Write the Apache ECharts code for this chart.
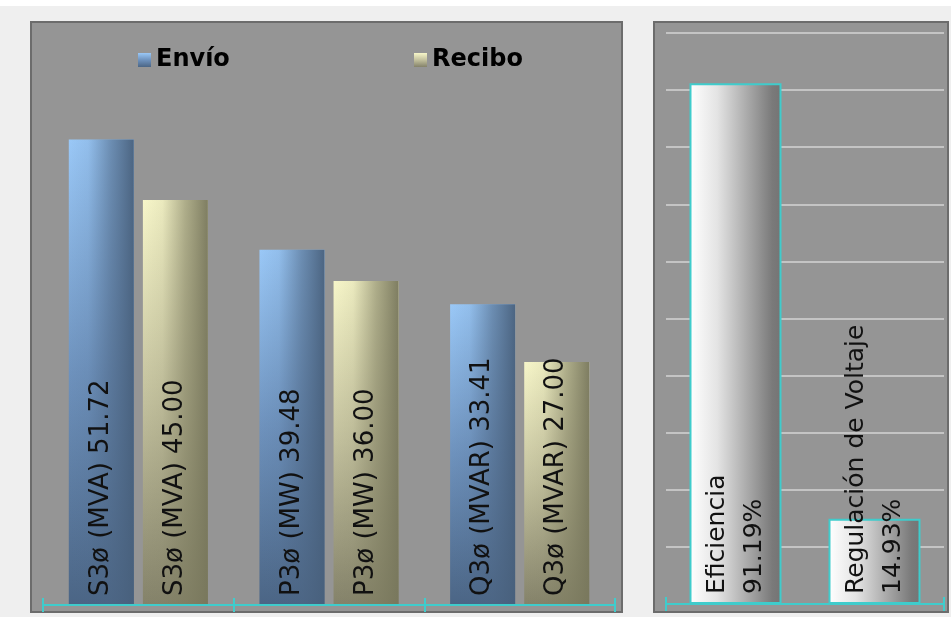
<!DOCTYPE html>
<html><head><meta charset="utf-8">
<script src="https://cdn.jsdelivr.net/npm/echarts@6/dist/echarts.min.js"></script>
<style>html,body{margin:0;padding:0;background:#efefef}#c{width:951px;height:617px}</style>
</head><body><div id="c"></div><script>
const categories = ['S3ø (MVA)', 'P3ø (MW)', 'Q3ø (MVAR)'];
const envio = [51.72, 39.48, 33.41];
const recibo = [45.00, 36.00, 27.00];
const indicadores = ['Eficiencia', 'Regulación de Voltaje'];
const indicadorValores = [91.19, 14.93];

const chart = echarts.init(document.getElementById('c'));
const G = echarts.graphic.LinearGradient;
const envioFill = new G(0,0,0,1,[{offset:0,color:'#9ac8f7'},{offset:0.5,color:'#6e92bd'},{offset:1,color:'#4b6585'}]);
const reciboFill = new G(0,0,0,1,[{offset:0,color:'#f7f6c9'},{offset:0.5,color:'#c2c09d'},{offset:1,color:'#84826a'}]);
const envioShade = new G(0,0,1,0,[{offset:0,color:'rgba(77,102,132,0)'},{offset:0.3,color:'rgba(77,102,132,0.1)'},{offset:0.65,color:'rgba(77,102,132,0.6)'},{offset:1,color:'rgba(72,96,124,0.95)'}]);
const reciboShade = new G(0,0,1,0,[{offset:0,color:'rgba(126,125,96,0)'},{offset:0.3,color:'rgba(126,125,96,0.1)'},{offset:0.65,color:'rgba(126,125,96,0.6)'},{offset:1,color:'rgba(120,119,92,0.95)'}]);
const greyFill = new G(0,0,1,0,[{offset:0,color:'#ffffff'},{offset:0.3,color:'#e4e4e4'},{offset:0.65,color:'#a6a6a6'},{offset:0.9,color:'#7a7a7a'},{offset:1,color:'#747474'}]);
const cyan = '#3fcccc';
const FONT = 'DejaVu Sans';

const leftLabel = {
  show: true, rotate: 90, position: 'insideBottom', align: 'left', verticalAlign: 'middle',
  distance: 9, color: '#111', fontFamily: FONT, fontSize: 26,
  formatter: p => categories[p.dataIndex] + ' ' + p.value.toFixed(2)
};

const option = {
  animation: false,
  backgroundColor: '#efefef',
  graphic: [
    {type:'rect', z:-10, shape:{x:0,y:0,width:951,height:6}, style:{fill:'#ffffff'}},
    {type:'rect', z:-10, shape:{x:31,y:22,width:591,height:590}, style:{fill:'#959595', stroke:'#6c6c6c', lineWidth:2}},
    {type:'rect', z:-10, shape:{x:654,y:22,width:294,height:590}, style:{fill:'#959595', stroke:'#6c6c6c', lineWidth:2}}
  ],
  legend: [
    {data:['Envío'], left:133, top:43, icon:'rect', itemWidth:13, itemHeight:14, itemGap:6,
     textStyle:{fontFamily:FONT, fontWeight:'bold', fontSize:24, color:'#000'}},
    {data:['Recibo'], left:409, top:43, icon:'rect', itemWidth:13, itemHeight:14, itemGap:6,
     textStyle:{fontFamily:FONT, fontWeight:'bold', fontSize:24, color:'#000'}}
  ],
  grid: [
    {left:43, top:65, width:572, height:540},
    {left:666, top:33, width:278, height:571}
  ],
  xAxis: [
    {gridIndex:0, type:'category', data:categories, z:10, axisLine:{lineStyle:{color:cyan,width:2}},
     axisTick:{show:true,length:7,lineStyle:{color:cyan,width:2}}, axisLabel:{show:false}},
    {gridIndex:0, type:'category', data:categories, position:'bottom', z:10, axisLine:{show:false},
     axisTick:{show:true,inside:true,length:7,lineStyle:{color:cyan,width:2}}, axisLabel:{show:false}},
    {gridIndex:1, type:'category', data:indicadores, z:10, axisLine:{lineStyle:{color:cyan,width:2}},
     axisTick:{show:true,length:7,lineStyle:{color:cyan,width:2}}, axisLabel:{show:false}},
    {gridIndex:1, type:'category', data:indicadores, position:'bottom', z:10, axisLine:{show:false},
     axisTick:{show:true,inside:true,length:7,lineStyle:{color:cyan,width:2}}, axisLabel:{show:false}}
  ],
  yAxis: [
    {gridIndex:0, type:'value', min:0, max:60, show:false},
    {gridIndex:1, type:'value', min:0, max:100, interval:10, axisLine:{show:false}, axisTick:{show:false},
     axisLabel:{show:false}, splitLine:{lineStyle:{color:'#c4c4c4', width:2}}}
  ],
  series: [
    {name:'Envío', type:'bar', xAxisIndex:0, yAxisIndex:0, data:envio, barWidth:65, barGap:'14%', itemStyle:{color:envioFill}},
    {name:'Recibo', type:'bar', xAxisIndex:0, yAxisIndex:0, data:recibo, barWidth:65, barGap:'14%', itemStyle:{color:reciboFill}},
    {name:'Envío sombra', type:'bar', xAxisIndex:1, yAxisIndex:0, data:envio, barWidth:65, barGap:'14%', itemStyle:{color:envioShade}, label:leftLabel, z:3},
    {name:'Recibo sombra', type:'bar', xAxisIndex:1, yAxisIndex:0, data:recibo, barWidth:65, barGap:'14%', itemStyle:{color:reciboShade}, label:leftLabel, z:3},
    {name:'Indicadores', type:'bar', xAxisIndex:2, yAxisIndex:1, data:indicadorValores, barWidth:92,
     itemStyle:{color:greyFill, borderColor:cyan, borderWidth:2},
     label:{show:true, rotate:90, position:'insideBottom', align:'left', verticalAlign:'middle', distance:10,
       color:'#111', fontFamily:FONT, fontSize:25, lineHeight:37,
       formatter: p => indicadores[p.dataIndex] + '\n' + p.value.toFixed(2) + '%'}}
  ]
};
chart.setOption(option);
</script></body></html>
